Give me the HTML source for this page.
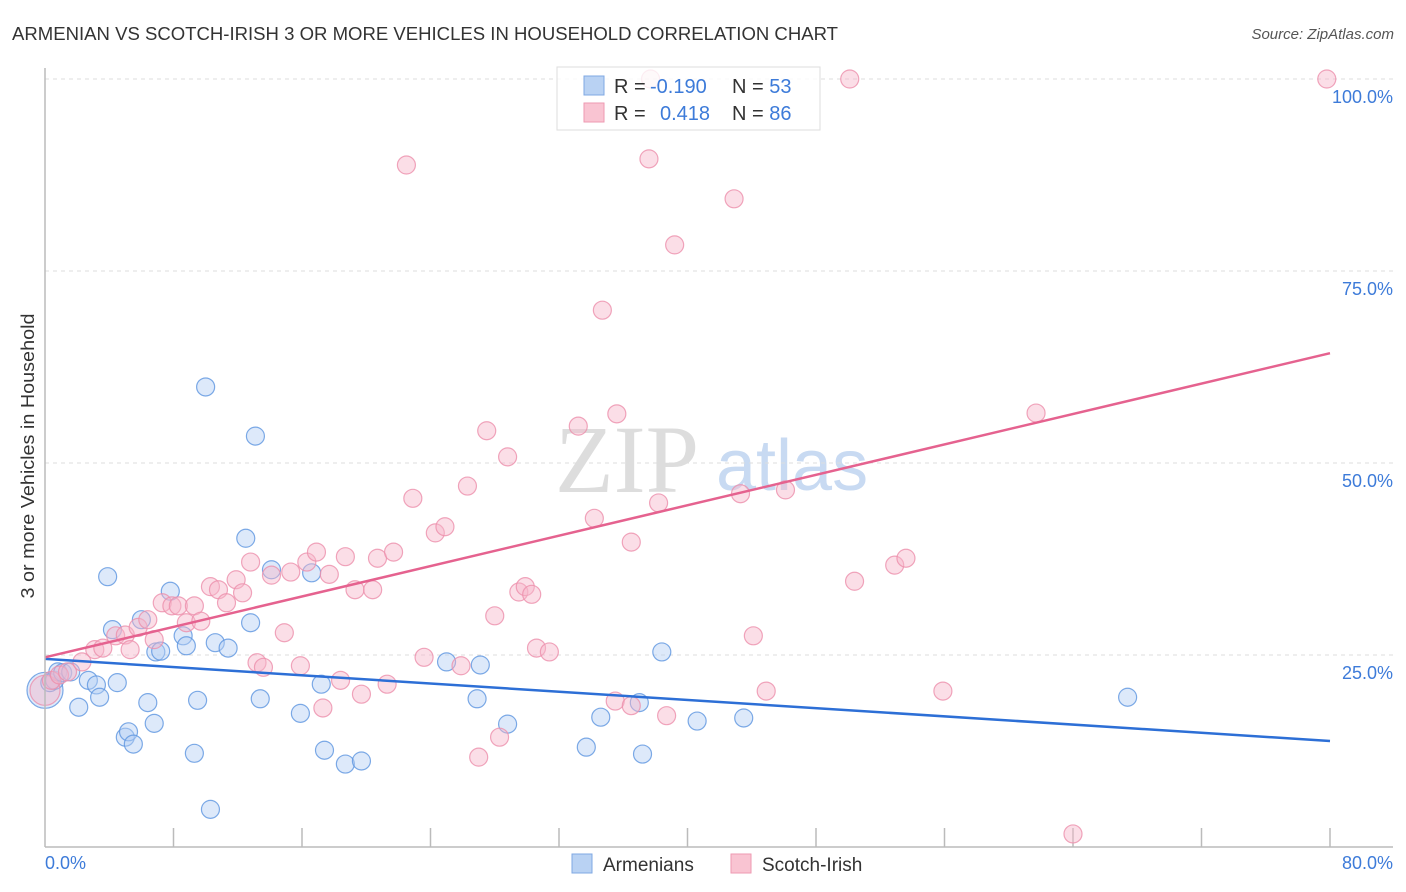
<!DOCTYPE html>
<html><head><meta charset="utf-8"><style>
body{margin:0;background:#fff;font-family:"Liberation Sans",sans-serif}
svg{display:block}
</style></head><body>
<svg id="c" width="1406" height="892">
<text x="12" y="40" font-size="18" fill="#333" textLength="826" lengthAdjust="spacingAndGlyphs">ARMENIAN VS SCOTCH-IRISH 3 OR MORE VEHICLES IN HOUSEHOLD CORRELATION CHART</text>
<text x="1394" y="39" font-size="15" fill="#555" font-style="italic" text-anchor="end">Source: ZipAtlas.com</text>
<text x="0" y="0" font-size="18" fill="#333" text-anchor="middle" textLength="285" lengthAdjust="spacingAndGlyphs" transform="translate(34,456) rotate(-90)">3 or more Vehicles in Household</text>
<text x="555" y="492" font-size="96" fill="#ddd" font-family="Liberation Serif,serif">ZIP</text>
<text x="716" y="490" font-size="72" fill="#c8daf2">atlas</text>
<g id="grid"></g><g id="pts"></g><g id="lines"></g>
<line x1="45" y1="68" x2="45" y2="847" stroke="#bbb" stroke-width="1.5"/>
<line x1="45" y1="847" x2="1393" y2="847" stroke="#bbb" stroke-width="1.5"/>
<text x="45" y="869" font-size="18" fill="#3d7bd9">0.0%</text>
<text x="1393" y="869" font-size="18" fill="#3d7bd9" text-anchor="end">80.0%</text>
<g>
<rect x="557" y="67" width="263" height="63" fill="#fff" fill-opacity="0.8" stroke="#ddd"/>
<rect x="584" y="76" width="20" height="19" fill="#b9d2f3" stroke="#7fa8e3"/>
<rect x="584" y="103" width="20" height="19" fill="#f9c4d2" stroke="#ee9ab2"/>
<text x="614" y="93" font-size="20" fill="#333">R = <tspan x="650" fill="#3d7bd9">-0.190</tspan><tspan x="732">N = </tspan><tspan fill="#3d7bd9">53</tspan></text>
<text x="614" y="120" font-size="20" fill="#333">R = <tspan x="660" fill="#3d7bd9">0.418</tspan><tspan x="732">N = </tspan><tspan fill="#3d7bd9">86</tspan></text>
</g>
<g>
<rect x="572" y="854" width="20" height="19" fill="#b9d2f3" stroke="#7fa8e3"/>
<text x="603" y="871" font-size="19" fill="#333">Armenians</text>
<rect x="731" y="854" width="20" height="19" fill="#f9c4d2" stroke="#ee9ab2"/>
<text x="762" y="871" font-size="19" fill="#333">Scotch-Irish</text>
</g>
</svg>
<script>
const yTicks=[25,50,75,100];
const yTickLabels=["25.0%","50.0%","75.0%","100.0%"];
const blueX=[0,0.3,0.6,0.8,1.1,1.6,2.1,2.7,3.2,3.4,3.9,4.2,4.5,5.0,5.2,5.5,6.0,6.4,6.8,6.9,7.2,7.8,8.6,8.8,9.3,9.5,10.0,10.3,10.6,11.4,12.5,12.8,13.1,13.4,14.1,15.9,16.6,17.2,17.4,18.7,19.7,25.0,26.9,27.1,28.8,33.7,34.6,37.0,37.2,38.4,40.6,43.5,67.4];
const blueY=[20.4,21.4,21.7,22.8,22.7,22.8,18.2,21.7,21.1,19.5,35.2,28.3,21.4,14.3,15.0,13.4,29.6,18.8,16.1,25.4,25.5,33.3,27.5,26.2,12.2,19.1,59.9,4.9,26.6,25.9,40.2,29.2,53.5,19.3,36.1,17.4,35.7,21.2,12.6,10.8,11.2,24.1,19.3,23.7,16.0,13.0,16.9,18.8,12.1,25.4,16.4,16.8,19.5];
const pinkX=[0,0.4,0.9,1.4,2.3,3.1,3.6,4.4,5.0,5.3,5.8,6.4,6.8,7.3,7.9,8.3,8.8,9.3,9.7,10.3,10.8,11.3,11.9,12.3,12.8,13.2,13.6,14.1,14.9,15.3,15.9,16.3,16.9,17.3,17.7,18.4,18.7,19.3,19.7,20.4,20.7,21.3,21.7,22.5,22.9,23.6,24.3,24.9,25.9,26.3,27.0,27.5,28.0,28.3,28.8,29.5,29.9,30.3,30.6,31.4,33.2,34.2,34.7,35.5,35.6,36.5,36.5,37.6,37.7,38.2,38.7,39.2,42.9,43.3,44.1,44.9,46.1,50.1,50.4,52.9,53.6,55.9,61.7,64.0,79.8];
const pinkY=[20.4,21.7,22.4,22.8,24.1,25.7,25.9,27.5,27.6,25.7,28.6,29.6,27.0,31.8,31.4,31.4,29.2,31.4,29.4,33.9,33.5,31.8,34.8,33.1,37.1,24.0,23.4,35.4,27.9,35.8,23.6,37.1,38.4,18.1,35.5,21.7,37.8,33.5,19.9,33.5,37.6,21.2,38.4,88.8,45.4,24.7,40.9,41.7,23.6,47.0,11.7,54.2,30.1,14.3,50.8,33.2,33.9,32.9,25.9,25.4,54.8,42.8,69.9,19.0,56.4,18.4,39.7,89.6,100,44.8,17.1,78.4,84.4,46.0,27.5,20.3,46.5,100,34.6,36.7,37.6,20.3,56.5,1.7,100];
const blueTrend=[24.5,13.8];
const pinkTrend=[24.7,64.3];
const NS='http://www.w3.org/2000/svg';
const sx=v=>45+v/80*1285;
const sy=v=>847-v/100*768;
function mk(tag,attrs,parent){const e=document.createElementNS(NS,tag);for(const k in attrs)e.setAttribute(k,attrs[k]);parent.appendChild(e);return e;}
const grid=document.getElementById('grid');
yTicks.forEach((t,i)=>{
  const l=mk('line',{x1:45,x2:1393,y1:sy(t),y2:sy(t),stroke:'#ddd','stroke-dasharray':'4,4'},grid);
  
  
  const tx=mk('text',{x:1393,y:sy(t)+24,'font-size':18,fill:'#3d7bd9','text-anchor':'end'},grid);
  tx.textContent=yTickLabels[i];
  
  
});
for(let k=1;k<=10;k++){
  const l=mk('line',{x1:45+k*128.5,x2:45+k*128.5,y1:828,y2:847,stroke:'#bbb','stroke-width':1.5},grid);
  
  
}
const pts=document.getElementById('pts');
function drawSeries(xs,ys,fill,stroke,name,bigR){
  xs.forEach((x,i)=>{
    const c=mk('circle',{cx:sx(x),cy:sy(ys[i]),r:(i===0?bigR:9),fill:fill,'fill-opacity':0.45,stroke:stroke,'stroke-width':1.2,'stroke-opacity':0.8},pts);
    
    
  });
}
drawSeries(blueX,blueY,'#b3cff3','#5d95e0','armenian-point',18);
drawSeries(pinkX,pinkY,'#f7b6c9','#ec8fab','scotch-irish-point',15);
const lines=document.getElementById('lines');
const bl=mk('line',{x1:sx(0),y1:sy(blueTrend[0]),x2:sx(80),y2:sy(blueTrend[1]),stroke:'#2d6fd6','stroke-width':2.5},lines);


const pl=mk('line',{x1:sx(0),y1:sy(pinkTrend[0]),x2:sx(80),y2:sy(pinkTrend[1]),stroke:'#e5628f','stroke-width':2.5},lines);


</script>
</body></html>
